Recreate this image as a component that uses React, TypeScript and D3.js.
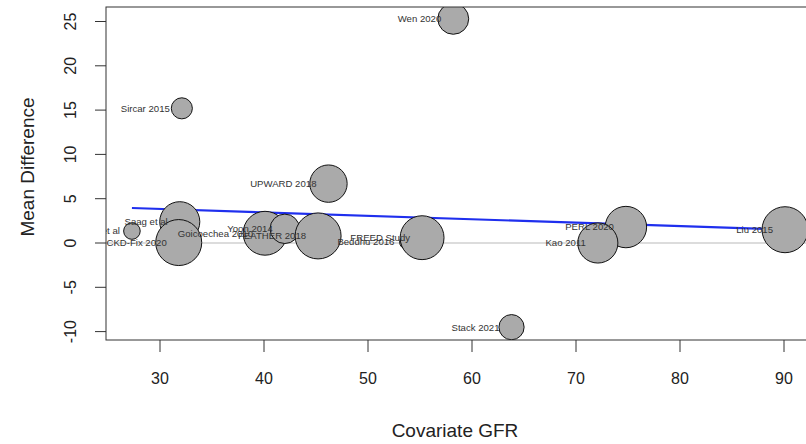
import React from "react";
import * as d3 from "d3";

// study labels, covariate GFR, mean difference and relative weight (bubble size)
const studies = [
  "Wen 2020",
  "Sircar 2015",
  "UPWARD 2018",
  "Stack 2021",
  "Dubey et al",
  "Saag et al",
  "CKD-Fix 2020",
  "Goicoechea 2010",
  "Yoon 2014",
  "FEATHER 2018",
  "Beddhu 2016",
  "FREED Study",
  "PERL 2020",
  "Kao 2011",
  "Liu 2015",
];
const gfr = [58.2, 32.1, 46.2, 63.8, 27.3, 31.9, 31.8, 40.1, 42.0, 45.2, 53.7, 55.2, 74.8, 72.1, 90.1];
const meanDiff = [25.3, 15.2, 6.7, -9.5, 1.35, 2.4, 0.05, 1.1, 1.6, 0.8, 0.1, 0.6, 1.8, 0.0, 1.5];
const weights = [4.5, 2.1, 6.6, 3.0, 1.3, 7.6, 10, 9.1, 4.1, 10, 0.9, 9.1, 8.1, 7.6, 10];

// meta-regression line (intercept / slope)
const regIntercept = 5.01;
const regSlope = -0.0388;

const xTicks = [30, 40, 50, 60, 70, 80, 90];
const yTicks = [-10, -5, 0, 5, 10, 15, 20, 25];

const width = 806;
const height = 444;
const box = { left: 106, right: 830, top: 7, bottom: 340 };

const App: React.FC = () => {
  const xScale = d3.scaleLinear().domain([30, 90]).range([160, 784]);
  const yScale = d3.scaleLinear().domain([-10, 25]).range([331.6, 21.5]);
  const rScale = d3.scaleSqrt().domain([0, 10]).range([0, 23]);

  const xMin = d3.min(gfr) as number;
  const xMax = d3.max(gfr) as number;
  const regLine = d3
    .line<number>()
    .x((d) => xScale(d))
    .y((d) => yScale(regIntercept + regSlope * d));

  const font = "'Liberation Sans', Arial, Helvetica, sans-serif";

  return (
    <svg
      width={width}
      height={height}
      style={{ position: "absolute", left: 0, top: 0, background: "#fff" }}
      fontFamily={font}
    >
      <defs>
        <clipPath id="plotClip">
          <rect x={box.left} y={box.top} width={box.right - box.left} height={box.bottom - box.top} />
        </clipPath>
      </defs>

      <g clipPath="url(#plotClip)">
        {/* zero reference line */}
        <line
          x1={box.left}
          x2={box.right}
          y1={yScale(0)}
          y2={yScale(0)}
          stroke="#dcdcdc"
          strokeWidth={2.2}
        />
        {/* regression line */}
        <path d={regLine([xMin, xMax]) || ""} stroke="#1f2fee" strokeWidth={2.2} fill="none" />
        {studies.map((s, i) => (
          <circle
            key={s}
            cx={xScale(gfr[i])}
            cy={yScale(meanDiff[i])}
            r={rScale(weights[i])}
            fill="#aaaaaa"
            stroke="#111"
            strokeWidth={1}
          />
        ))}
        {studies.map((s, i) => (
          <text
            key={s}
            x={xScale(gfr[i]) - 12}
            y={yScale(meanDiff[i])}
            dy="0.35em"
            textAnchor="end"
            fontSize={9.6}
            fill="#333"
          >
            {s}
          </text>
        ))}
      </g>

      {/* box */}
      <rect
        x={box.left}
        y={box.top}
        width={box.right - box.left}
        height={box.bottom - box.top}
        fill="none"
        stroke="#333"
        strokeWidth={1}
      />

      {/* x axis */}
      <g>
        {xTicks.map((t) => (
          <g key={t}>
            <line x1={xScale(t)} x2={xScale(t)} y1={box.bottom} y2={box.bottom + 12} stroke="#333" />
            <text x={xScale(t)} y={box.bottom + 44} textAnchor="middle" fontSize={16} fill="#222">
              {t}
            </text>
          </g>
        ))}
      </g>

      {/* y axis */}
      <g>
        {yTicks.map((t) => (
          <g key={t}>
            <line x1={box.left - 11} x2={box.left} y1={yScale(t)} y2={yScale(t)} stroke="#333" />
            <text
              transform={`translate(76,${yScale(t)}) rotate(-90)`}
              textAnchor="middle"
              fontSize={16}
              fill="#222"
            >
              {t}
            </text>
          </g>
        ))}
      </g>

      <text x={455} y={437} textAnchor="middle" fontSize={19} fill="#222">
        Covariate GFR
      </text>
      <text transform={`translate(34,167) rotate(-90)`} textAnchor="middle" fontSize={19} fill="#222">
        Mean Difference
      </text>
    </svg>
  );
};

export default App;
